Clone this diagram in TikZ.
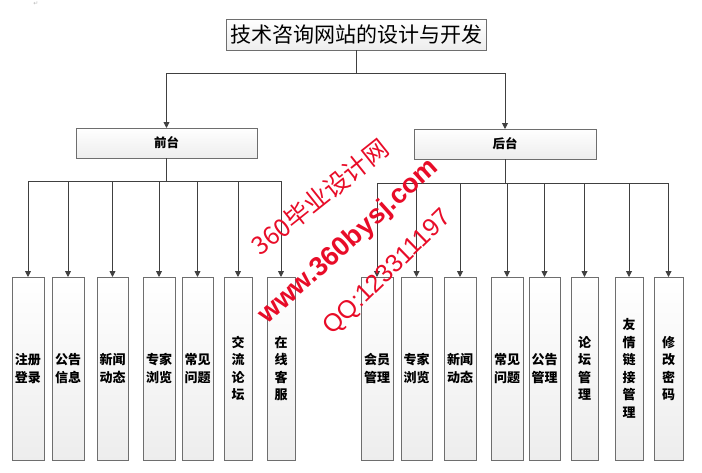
\documentclass[tikz,border=0pt]{standalone}
\usepackage{fontspec}
\setmainfont{Noto Sans CJK SC}
\newfontfamily\cjk{Noto Sans CJK SC}
\newfontfamily\lsans{Liberation Sans}
\newfontfamily\djv{DejaVu Sans}
\usetikzlibrary{arrows.meta,shadows}
\definecolor{wmred}{RGB}{232,12,40}
\definecolor{edgegray}{RGB}{64,64,64}
\definecolor{boxline}{RGB}{110,110,110}
\tikzset{
  boxbase/.style={draw=boxline, line width=0.9pt, top color=white, bottom color=gray!14,
    drop shadow={shadow xshift=1.2pt, shadow yshift=-1.2pt, fill=gray!60, opacity=0.6},
    inner sep=0pt, outer sep=0pt, anchor=center},
  titlebox/.style={boxbase, minimum width=260pt, minimum height=31pt, font=\cjk\fontsize{21}{24}\selectfont},
  midbox/.style={boxbase, minimum height=30pt, font=\cjk\bfseries\fontsize{12.5}{15}\selectfont},
  colbox/.style={boxbase, minimum height=183pt, align=center, font=\cjk\bfseries\fontsize{13}{17.5}\selectfont},
  conn/.style={draw=edgegray, line width=0.9pt},
  arr/.style={conn, -{Triangle[length=6pt,width=6pt]}},
  wm/.style={text=wmred, inner sep=0pt, anchor=center}
}
\begin{document}
\begin{tikzpicture}[x=1pt,y=-1pt]
\useasboundingbox (0,0) rectangle (702,472);
\node[text=gray!55, font=\djv\fontsize{6}{6}\selectfont, inner sep=0pt] (ret) at (36,4) {↵};
% top
\node[titlebox] (root) at (356,34.5) {技术咨询网站的设计与开发};
\node[midbox, minimum width=181pt] (front) at (166.5,143) {前台};
\node[midbox, minimum width=182pt] (back) at (505,144) {后台};
\coordinate (j0) at (356,73);
\draw[conn] (root.south) -- (j0);
\draw[arr] (j0) -| (front.north);
\draw[arr] (j0) -| (back.north);
% front columns
\node[colbox, minimum width=32pt] (L1) at (28,368.5) {注册\\登录};
\node[colbox, minimum width=32pt] (L2) at (68,368.5) {公告\\信息};
\node[colbox, minimum width=31pt] (L3) at (112.5,368.5) {新闻\\动态};
\node[colbox, minimum width=32pt] (L4) at (159,368.5) {专家\\浏览};
\node[colbox, minimum width=31pt] (L5) at (197.5,368.5) {常见\\问题};
\node[colbox, minimum width=28pt] (L6) at (238,368.5) {交\\流\\论\\坛};
\node[colbox, minimum width=28pt] (L7) at (281,368.5) {在\\线\\客\\服};
\coordinate (jf) at (166.5,181);
\draw[conn] (front.south) -- (jf);
\foreach \n in {L1,L2,L3,L4,L5,L6,L7} {\draw[arr] (jf) -| (\n.north);}
% back columns
\node[colbox, minimum width=32pt] (R1) at (377,368.5) {会员\\管理};
\node[colbox, minimum width=31pt] (R2) at (416.5,368.5) {专家\\浏览};
\node[colbox, minimum width=32pt] (R3) at (460,368.5) {新闻\\动态};
\node[colbox, minimum width=32pt] (R4) at (507,368.5) {常见\\问题};
\node[colbox, minimum width=31pt] (R5) at (544.5,368.5) {公告\\管理};
\node[colbox, minimum width=27pt] (R6) at (584.5,368.5) {论\\坛\\管\\理};
\node[colbox, minimum width=28pt] (R7) at (629,368.5) {友\\情\\链\\接\\管\\理};
\node[colbox, minimum width=29pt] (R8) at (668.5,368.5) {修\\改\\密\\码};
\coordinate (jb) at (505,183);
\draw[conn] (back.south) -- (jb);
\foreach \n in {R1,R2,R3,R4,R5,R6,R7,R8} {\draw[arr] (jb) -| (\n.north);}
% watermark
\node[wm, rotate=38.6, font=\cjk\fontsize{25}{25}\selectfont] (wm1) at (320,197) {360毕业设计网};
\node[wm, rotate=41.9, font=\lsans\bfseries\fontsize{27}{27}\selectfont] (wm2) at (349,242) {www.360bysj.com};
\node[wm, rotate=44.3, font=\lsans\fontsize{25}{25}\selectfont] (wm3) at (388,273) {QQ:123311197};
\end{tikzpicture}
\end{document}
